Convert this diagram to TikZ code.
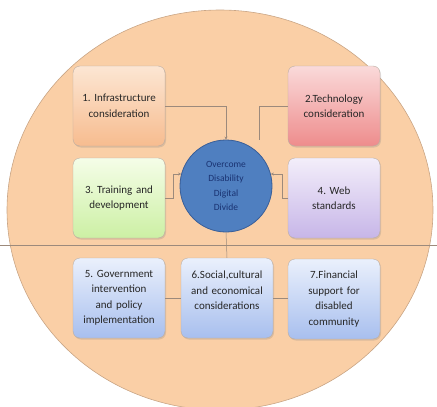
\documentclass[tikz,border=0pt]{standalone}
\usepackage{fontspec}
\setmainfont{Carlito}
\usetikzlibrary{positioning, shapes.geometric, arrows.meta, calc, shadows}
\usepackage{xcolor}
\definecolor{ddpeach}{HTML}{FACFA6}
\definecolor{ddedge}{HTML}{C9A585}
\definecolor{ddline}{HTML}{9C8A7C}
\definecolor{ddtext}{HTML}{262626}
\definecolor{ddhub}{HTML}{4F7FC0}
\definecolor{ddhubedge}{HTML}{395E98}
\definecolor{ddhubtext}{HTML}{1A3372}
\definecolor{orangetop}{HTML}{FCE6D3}
\definecolor{orangebot}{HTML}{F7BC8F}
\definecolor{redtop}{HTML}{FADADA}
\definecolor{redbot}{HTML}{EE8C8C}
\definecolor{greentop}{HTML}{F5FDE8}
\definecolor{greenbot}{HTML}{CCF0A4}
\definecolor{violettop}{HTML}{F3EEFA}
\definecolor{violetbot}{HTML}{C7B6E8}
\definecolor{bluetop}{HTML}{EAF0FC}
\definecolor{bluebot}{HTML}{A8BFEE}
\frenchspacing

\begin{document}
\begin{tikzpicture}[x=1pt, y=-1pt,
    font=\fontsize{11}{15.5}\selectfont,
    factor/.style={draw=ddline!70, rounded corners=7pt, text=ddtext,
          minimum width=92pt, minimum height=80pt, text width=88pt,
          align=center, inner sep=2pt,
          drop shadow={opacity=0.25, shadow xshift=1pt, shadow yshift=-1.5pt}},
    link/.style={draw=ddline, line width=0.5pt},
    tolink/.style={link, -{Stealth[length=3pt, width=3pt]}}]
    \useasboundingbox (0,0) rectangle (437,407);
    % background disc and divider
    \draw[fill=ddpeach, draw=ddedge, line width=0.6pt] (220,210) ellipse [x radius=213, y radius=200];
    \coordinate (divL) at (0,245);
    \coordinate (divR) at (437,245);
    \draw[link] (divL) -- (divR);

    \node[circle, fill=ddhub, draw=ddhubedge, line width=0.8pt, minimum size=92pt,
          text=ddhubtext, align=center, inner sep=0pt,
          font=\fontsize{9.5}{14.5}\selectfont] (hub) at (226,186)
          {Overcome\\Disability\\Digital\\Divide};

    \node[factor, top color=orangetop, bottom color=orangebot] (infra) at (119,106)
          {1. Infrastructure\\consideration};
    \node[factor, top color=redtop, bottom color=redbot] (tech) at (334,106)
          {2.Technology\\consideration};
    \node[factor, top color=greentop, bottom color=greenbot] (train) at (119,198)
          {3. Training and\\development};
    \node[factor, top color=violettop, bottom color=violetbot] (web) at (334,198)
          {4. Web\\standards};
    \node[factor, top color=bluetop, bottom color=bluebot] (gov) at (119,298)
          {5. Government\\intervention\\and policy\\implementation};
    \node[factor, top color=bluetop, bottom color=bluebot, minimum width=90pt] (social) at (227,298)
          {6.Social,cultural\\and economical\\considerations\\\mbox{}};
    \node[factor, top color=bluetop, bottom color=bluebot] (fin) at (334,299)
          {7.Financial\\support for\\disabled\\community};

    % connectors
    \draw[tolink] (infra.east) -| (hub.north);
    \draw[link] (tech.west) -| (hub.north east |- hub.north);
    \draw[tolink] (train.east) -- ++(8,0) |- (hub.165);
    \draw[tolink] (web.west) -- ++(-6,0) |- (hub.15);
    \draw[link] (social.north) -- (hub.south);
    \draw[link] (gov.east) -- (gov.east -| social.west);
    \draw[link] (social.east) -- (social.east -| fin.west);
  \end{tikzpicture}
\end{document}
